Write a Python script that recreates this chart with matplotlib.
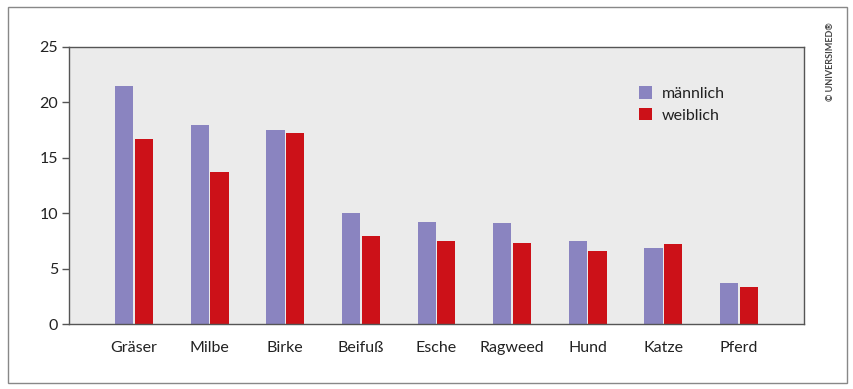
import numpy as np
import matplotlib.pyplot as plt
from matplotlib.patches import Rectangle

categories = ['Gräser', 'Milbe', 'Birke', 'Beifuß', 'Esche', 'Ragweed', 'Hund', 'Katze', 'Pferd']
maennlich = [21.5, 18.0, 17.5, 10.0, 9.2, 9.1, 7.5, 6.9, 3.7]
weiblich = [16.7, 13.7, 17.2, 7.9, 7.5, 7.3, 6.6, 7.2, 3.3]

plt.rcParams['font.family'] = ['Lato', 'DejaVu Sans']

fig = plt.figure(figsize=(8.54, 3.89), dpi=100)
ax = fig.add_axes([69 / 854, 1 - 324 / 389, (804 - 69) / 854, (324 - 47) / 389])

x = np.arange(len(categories))
w = 0.24
ax.bar(x - 0.13, maennlich, w, color='#8a84c0', label='männlich')
ax.bar(x + 0.13, weiblich, w, color='#cc1118', label='weiblich')

ax.set_facecolor('#ebebeb')
ax.set_xlim(-0.86, len(categories) - 1 + 0.86)
ax.set_ylim(0, 25)
ax.set_yticks([0, 5, 10, 15, 20, 25])
ax.set_xticks(x)
ax.set_xticklabels(categories)
ax.tick_params(axis='y', length=5, width=1, color='#555555', labelsize=11.5, labelcolor='#222222', pad=3)
ax.tick_params(axis='x', length=0, labelsize=11.5, labelcolor='#222222', pad=12)
for s in ax.spines.values():
    s.set_color('#555555')
    s.set_linewidth(1)

leg = ax.legend(loc='upper left', bbox_to_anchor=(0.756, 0.91), frameon=False, fontsize=11.5,
                handlelength=0.8, handleheight=0.8, handletextpad=0.6, labelspacing=0.45)
for t in leg.get_texts():
    t.set_color('#222222')

# outer frame
fig.patches.append(Rectangle((8 / 854, 1 - 383 / 389), 839 / 854, 376 / 389,
                             transform=fig.transFigure, fill=False, edgecolor='#888888', linewidth=1))

fig.text(831 / 854, 1 - 62 / 389, '© UNIVERSIMED®', rotation=90, ha='center', va='center',
         fontsize=6.5, fontweight='bold', color='#444444')

fig.savefig('out.png', dpi=100)
